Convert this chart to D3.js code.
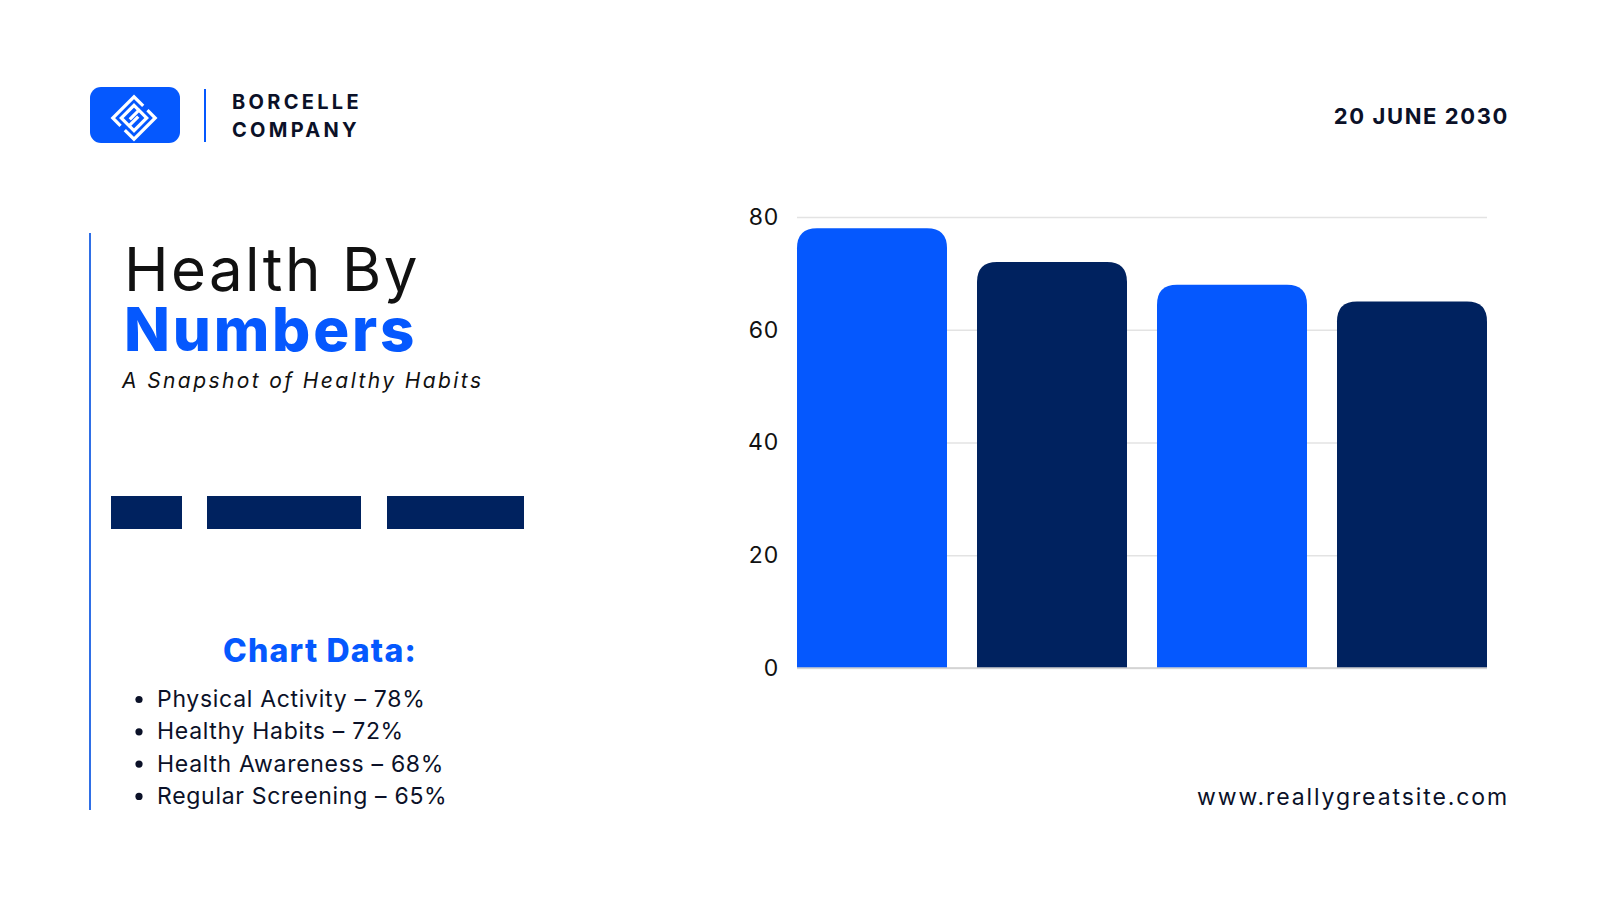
<!DOCTYPE html>
<html>
<head>
<meta charset="utf-8">
<script src="https://cdn.jsdelivr.net/npm/d3@7"></script>
<style>
  body { margin: 0; background: #fff; }
  svg { display: block; font-family: Inter, "Noto Sans", sans-serif; }
</style>
</head>
<body>
<div class="viz"></div>
<script>
// chart values
const categories = ['Physical Activity', 'Healthy Habits', 'Health Awareness', 'Regular Screening']
const values = [78, 72, 68, 65]
const barColors = ['#0558fe', '#00225f', '#0558fe', '#00225f']
const yTicks = [0, 20, 40, 60, 80]

const width = 1600
const height = 900
const blue = '#0558fe'
const navy = '#00225f'
const ink = '#0b1128'

const svg = d3.select('.viz').append('svg')
  .attr('width', width)
  .attr('height', height)

// ---- header ----
svg.append('rect')
  .attr('x', 90).attr('y', 87)
  .attr('width', 90).attr('height', 56)
  .attr('rx', 11)
  .attr('fill', blue)

// logo glyph
const logo = svg.append('g')
  .attr('transform', 'translate(134,118) rotate(45)')
  .attr('fill', 'none')
  .attr('stroke', '#fff')
  .attr('stroke-width', 3.2)
logo.append('path').attr('d', 'M-2,-15 L-15,-15 L-15,15 L-4,15')
logo.append('path').attr('d', 'M-3,-9 L-9,-9 L-9,9 L2,9 L2,-4')
logo.append('path').attr('d', 'M2,15 L15,15 L15,-15 L4,-15')
logo.append('path').attr('d', 'M3,9 L9,9 L9,-9 L-2,-9 L-2,4')

svg.append('rect')
  .attr('x', 204).attr('y', 89)
  .attr('width', 2).attr('height', 53)
  .attr('fill', blue)

const brand = svg.append('text')
  .attr('font-size', 20).attr('font-weight', 700)
  .attr('letter-spacing', 3.3)
  .attr('fill', ink)
brand.append('tspan').attr('x', 232).attr('y', 109).text('BORCELLE')
brand.append('tspan').attr('x', 232).attr('y', 137).text('COMPANY')

svg.append('text')
  .attr('x', 1509).attr('y', 124)
  .attr('text-anchor', 'end')
  .attr('font-size', 22).attr('font-weight', 700)
  .attr('letter-spacing', 1.6)
  .attr('fill', ink)
  .text('20 JUNE 2030')

// ---- left panel ----
svg.append('rect')
  .attr('x', 89).attr('y', 233)
  .attr('width', 2).attr('height', 577)
  .attr('fill', '#2f6fe6')

const title = svg.append('text')
  .attr('font-size', 60)
title.append('tspan')
  .attr('x', 124).attr('y', 291)
  .attr('font-weight', 400)
  .attr('letter-spacing', 2.4)
  .attr('fill', '#111')
  .text('Health By')
title.append('tspan')
  .attr('x', 124).attr('y', 351)
  .attr('font-weight', 800)
  .attr('letter-spacing', 2.8)
  .attr('fill', blue)
  .text('Numbers')

svg.append('text')
  .attr('x', 122).attr('y', 388)
  .attr('font-size', 21).attr('font-style', 'italic')
  .attr('letter-spacing', 2.4)
  .attr('fill', '#111')
  .text('A Snapshot of Healthy Habits')

// dark blocks
const blocks = [[111, 71], [207, 154], [387, 137]]
svg.append('g').selectAll('rect')
  .data(blocks)
  .join('rect')
  .attr('x', d => d[0]).attr('y', 496)
  .attr('width', d => d[1]).attr('height', 33)
  .attr('fill', navy)

svg.append('text')
  .attr('x', 320).attr('y', 662)
  .attr('text-anchor', 'middle')
  .attr('font-size', 32).attr('font-weight', 800)
  .attr('letter-spacing', 1.2)
  .attr('fill', blue)
  .text('Chart Data:')

const list = svg.append('g')
  .selectAll('g')
  .data(categories)
  .join('g')
  .attr('transform', (d, i) => `translate(0,${707 + i * 32.3})`)

list.append('circle')
  .attr('cx', 139).attr('cy', -7.5)
  .attr('r', 3.6)
  .attr('fill', ink)

list.append('text')
  .attr('x', 157)
  .attr('font-size', 23)
  .attr('letter-spacing', 0.7)
  .attr('fill', ink)
  .text((d, i) => `${d} – ${values[i]}%`)

// ---- bar chart ----
const x = d3.scaleBand()
  .domain(categories)
  .range([797, 1487])
  .paddingInner(1 / 6)
  .paddingOuter(0)

const y = d3.scaleLinear()
  .domain([0, 80])
  .range([668, 217])

const axis = svg.append('g')
  .attr('transform', 'translate(797,0)')
  .call(d3.axisLeft(y)
    .tickValues(yTicks)
    .tickSize(-(1487 - 797))
    .tickPadding(18))

axis.select('.domain').remove()
axis.selectAll('.tick line')
  .attr('stroke', '#e3e3e3')
  .attr('stroke-width', 1.5)
axis.selectAll('.tick text')
  .attr('font-size', 23)
  .attr('font-family', 'Inter, sans-serif')
  .attr('letter-spacing', 0.8)
  .attr('fill', '#111')

const r = 20
svg.append('g').selectAll('path')
  .data(values)
  .join('path')
  .attr('fill', (d, i) => barColors[i])
  .attr('d', (d, i) => {
    const x0 = x(categories[i])
    const x1 = x0 + x.bandwidth()
    const y0 = y(0)
    const y1 = y(d)
    return `M${x0},${y0} L${x0},${y1 + r} Q${x0},${y1} ${x0 + r},${y1} L${x1 - r},${y1} Q${x1},${y1} ${x1},${y1 + r} L${x1},${y0} Z`
  })

svg.append('line')
  .attr('x1', 797).attr('x2', 1487)
  .attr('y1', y(0)).attr('y2', y(0))
  .attr('stroke', '#cfcfcf')
  .attr('stroke-width', 1.5)

svg.append('text')
  .attr('x', 1509).attr('y', 805)
  .attr('text-anchor', 'end')
  .attr('font-size', 23)
  .attr('letter-spacing', 1.9)
  .attr('fill', ink)
  .text('www.reallygreatsite.com')
</script>
</body>
</html>
